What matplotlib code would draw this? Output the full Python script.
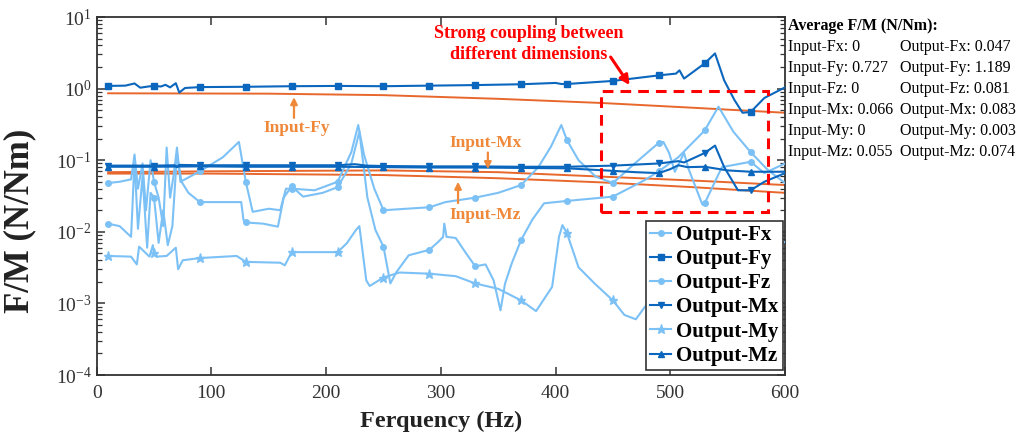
import numpy as np
import matplotlib
matplotlib.use("Agg")
import matplotlib.pyplot as plt
from matplotlib.patches import Rectangle
from matplotlib.ticker import LogLocator, NullFormatter, NullLocator

plt.rcParams['font.family'] = ['Liberation Serif', 'DejaVu Serif']
plt.rcParams['mathtext.fontset'] = 'custom'
plt.rcParams['mathtext.rm'] = 'Liberation Serif'
plt.rcParams['mathtext.it'] = 'Liberation Serif:italic'
plt.rcParams['mathtext.bf'] = 'Liberation Serif:bold'

# frequencies (Hz) where the markers sit on every output curve
marker_f = [10, 50, 90, 130, 170, 210, 250, 290, 330, 370, 410, 450, 490, 530, 570]

# input curves (F/M in N or N/m)
in_fy = [(10, 0.86), (150, 0.85), (250, 0.81), (350, 0.72), (440, 0.63), (520, 0.54), (600, 0.46)]
in_mx = [(10, 0.068), (100, 0.070), (250, 0.072), (350, 0.068), (440, 0.059), (520, 0.052), (600, 0.045)]
in_mz = [(10, 0.065), (100, 0.065), (250, 0.062), (350, 0.056), (440, 0.049), (520, 0.042), (600, 0.035)]

# output curves
out_fx = [(10, 0.013), (20, 0.012), (30, 0.0085), (33, 0.10), (36, 0.011), (40, 0.06), (44, 0.006),
          (47, 0.035), (50, 0.03), (54, 0.007), (58, 0.02), (62, 0.0065), (66, 0.012), (70, 0.12),
          (74, 0.05), (80, 0.035), (90, 0.026), (110, 0.026), (126, 0.026), (128, 0.0146), (130, 0.0135),
          (145, 0.013), (158, 0.0118), (163, 0.03), (170, 0.043), (180, 0.031), (197, 0.035), (210, 0.042),
          (222, 0.09), (229, 0.25), (236, 0.03), (243, 0.0106), (250, 0.0062), (256, 0.0019), (261, 0.0027),
          (272, 0.0047), (290, 0.0056), (298, 0.0073), (302, 0.0085), (303, 0.013), (305, 0.0085),
          (313, 0.0082), (322, 0.005), (330, 0.0033), (339, 0.0035), (346, 0.0021), (352, 0.0008),
          (356, 0.0019), (362, 0.0037), (370, 0.0077), (380, 0.015), (390, 0.025), (410, 0.027),
          (450, 0.031), (478, 0.053), (490, 0.07), (507, 0.11), (530, 0.26), (542, 0.56), (555, 0.25),
          (570, 0.13), (585, 0.073), (600, 0.048)]
out_fy = [(10, 1.09), (25, 1.10), (33, 1.18), (38, 1.03), (45, 1.07), (50, 1.09), (56, 1.07), (60, 1.13),
          (64, 1.04), (69, 1.19), (72, 0.88), (77, 1.02), (90, 1.05), (130, 1.06), (170, 1.08), (210, 1.09),
          (250, 1.08), (290, 1.10), (330, 1.12), (370, 1.15), (400, 1.20), (405, 1.16), (410, 1.16),
          (450, 1.28), (490, 1.53), (505, 1.62), (508, 1.8), (512, 1.38), (530, 2.25), (539, 3.1),
          (547, 1.3), (556, 0.69), (563, 0.46), (570, 0.47), (582, 0.74), (600, 1.04)]
out_fz = [(10, 0.048), (20, 0.05), (30, 0.054), (33, 0.12), (36, 0.04), (40, 0.09), (43, 0.02), (47, 0.1),
          (50, 0.05), (54, 0.03), (58, 0.012), (61, 0.15), (64, 0.03), (67, 0.06), (70, 0.15), (73, 0.05),
          (90, 0.07), (110, 0.11), (124, 0.18), (130, 0.05), (136, 0.019), (150, 0.021), (160, 0.02),
          (165, 0.04), (170, 0.04), (190, 0.038), (210, 0.05), (222, 0.13), (228, 0.31), (233, 0.12),
          (242, 0.04), (250, 0.02), (270, 0.021), (290, 0.022), (304, 0.026), (330, 0.03), (350, 0.035),
          (370, 0.045), (385, 0.08), (396, 0.155), (405, 0.31), (410, 0.19), (420, 0.10), (435, 0.059),
          (450, 0.048), (469, 0.09), (490, 0.175), (494, 0.18), (499, 0.126), (504, 0.069), (512, 0.126),
          (516, 0.075), (528, 0.024), (530, 0.025), (545, 0.08), (570, 0.095), (582, 0.066), (600, 0.09)]
out_mx = [(10, 0.084), (50, 0.084), (68, 0.085), (70, 0.08), (72, 0.086), (90, 0.085), (130, 0.085),
          (170, 0.085), (210, 0.085), (225, 0.088), (235, 0.084), (250, 0.083), (290, 0.082), (330, 0.082),
          (370, 0.081), (410, 0.081), (450, 0.084), (490, 0.090), (507, 0.097), (512, 0.093), (530, 0.126),
          (539, 0.16), (547, 0.08), (559, 0.038), (570, 0.038), (582, 0.05), (600, 0.066)]
out_my = [(10, 0.0046), (30, 0.0045), (35, 0.0035), (37, 0.0062), (46, 0.0045), (49, 0.0065), (50, 0.005),
          (52, 0.0045), (61, 0.0046), (69, 0.006), (71, 0.003), (75, 0.004), (90, 0.0043), (122, 0.0046),
          (130, 0.0038), (160, 0.0037), (164, 0.0034), (170, 0.0052), (210, 0.0052), (218, 0.0069),
          (226, 0.0106), (229, 0.012), (235, 0.0021), (238, 0.00175), (250, 0.0023), (264, 0.0027),
          (290, 0.0026), (313, 0.0024), (330, 0.0019), (350, 0.0016), (370, 0.0011), (383, 0.00078),
          (397, 0.0017), (403, 0.0085), (406, 0.0124), (410, 0.0095), (420, 0.0032), (434, 0.0019),
          (450, 0.0011), (460, 0.00069), (470, 0.0006), (478, 0.0009), (490, 0.0012), (530, 0.0025),
          (570, 0.004), (597, 0.0069), (600, 0.0072)]
out_mz = [(10, 0.081), (50, 0.081), (90, 0.082), (130, 0.081), (170, 0.081), (210, 0.081), (250, 0.080),
          (290, 0.079), (330, 0.079), (370, 0.078), (410, 0.077), (450, 0.071), (470, 0.068), (490, 0.066),
          (500, 0.075), (507, 0.085), (515, 0.08), (530, 0.081), (550, 0.072), (570, 0.069), (600, 0.069)]

avg_labels_in = ["Input-Fx: 0", "Input-Fy: 0.727", "Input-Fz: 0", "Input-Mx: 0.066", "Input-My: 0", "Input-Mz: 0.055"]
avg_labels_out = ["Output-Fx: 0.047", "Output-Fy: 1.189", "Output-Fz: 0.081", "Output-Mx: 0.083",
                  "Output-My: 0.003", "Output-Mz: 0.074"]

light = '#7CC1F6'
dark = '#0B66BD'
orange = '#E8672C'
lab_orange = '#F0883A'

fig = plt.figure(figsize=(10.24, 4.36), dpi=100)
ax = fig.add_axes([0.0944, 0.1399, 0.6722, 0.8211])

for data in [in_fy, in_mx, in_mz]:
  f, v = np.array(data).T
  ax.plot(f, v, color=orange, lw=1.4, zorder=2)

outputs = [(out_fx, light, 'o', 4, "Output-Fx"),
           (out_fy, dark, 's', 4, "Output-Fy"),
           (out_fz, light, 'o', 4, "Output-Fz"),
           (out_mx, dark, 'v', 4.5, "Output-Mx"),
           (out_my, light, '*', 6.5, "Output-My"),
           (out_mz, dark, '^', 4.5, "Output-Mz")]
handles = []
for data, col, mk, ms, name in outputs:
  f, v = np.array(data).T
  h, = ax.plot(f, v, color=col, lw=1.5, marker=mk, ms=ms, markevery=list(np.isin(f, marker_f)),
               label=name, zorder=3)
  handles.append(h)

ax.set_yscale('log')
ax.set_xlim(0, 600)
ax.set_ylim(1e-4, 10)
ax.set_xticks(np.arange(0, 601, 100))
ax.xaxis.set_minor_locator(NullLocator())
ax.yaxis.set_major_locator(LogLocator(base=10, numticks=10))
ax.yaxis.set_minor_locator(LogLocator(base=10, subs=np.arange(2, 10), numticks=10))
ax.yaxis.set_minor_formatter(NullFormatter())
ax.tick_params(which='both', direction='in', top=True, right=True, labelsize=14, colors='#333333')
ax.tick_params(which='major', length=6, width=1.1)
ax.tick_params(which='minor', length=3.5, width=0.9)
ax.tick_params(axis='x', pad=7)
for sp in ax.spines.values():
  sp.set_linewidth(1.3)
  sp.set_color('#333333')

ax.set_xlabel("Ferquency (Hz)", fontsize=17.5, fontweight='bold', color='#222222')
ax.set_ylabel("F/M (N/Nm)", fontsize=25, fontweight='bold', color='#222222')
ax.xaxis.set_label_coords(0.5, -0.1)
ax.yaxis.set_label_coords(-0.088, 0.43)

# coupling region
ax.add_patch(Rectangle((440, 0.0187), 145.5, 0.935 - 0.0187, fill=False, edgecolor='red', lw=2.2,
                       linestyle=(0, (3.5, 2.3)), zorder=5))
ax.text(377, 4.2, "Strong coupling between\ndifferent dimensions", color='red', fontsize=13,
        fontweight='bold', ha='center', va='center', linespacing=1.25)
ax.annotate("", xy=(464.6, 1.12), xytext=(448, 2.76),
            arrowprops=dict(arrowstyle='-|>', color='red', lw=2.2, mutation_scale=14, shrinkA=0, shrinkB=0))

# input labels
arrow_kw = dict(arrowstyle='-|>', color=lab_orange, lw=1.6, mutation_scale=10, shrinkA=0, shrinkB=0)
ax.text(174, 0.28, "Input-Fy", color=lab_orange, fontsize=12.5, fontweight='bold', ha='center', va='center')
ax.annotate("", xy=(172, 0.76), xytext=(172, 0.39), arrowprops=arrow_kw)
ax.text(339, 0.172, "Input-Mx", color=lab_orange, fontsize=12.5, fontweight='bold', ha='center', va='center')
ax.annotate("", xy=(341, 0.075), xytext=(341, 0.128), arrowprops=arrow_kw)
ax.text(339, 0.0172, "Input-Mz", color=lab_orange, fontsize=12.5, fontweight='bold', ha='center', va='center')
ax.annotate("", xy=(315, 0.050), xytext=(315, 0.0252), arrowprops=arrow_kw)

leg = ax.legend(handles=handles, loc='lower right', bbox_to_anchor=(0.997, 0.014), borderaxespad=0,
                fancybox=False, edgecolor='#333333', framealpha=1, handlelength=1.0, handletextpad=0.25,
                labelspacing=0.2, borderpad=0.2, prop={'family': 'Liberation Serif', 'weight': 'bold', 'size': 15})
leg.get_frame().set_linewidth(1.2)
leg.set_zorder(6)

# averages block on the right
fig.text(788 / 1024, 1 - 26 / 436, "Average F/M (N/Nm):", fontsize=11.5, fontweight='bold', va='center')
for i in range(6):
  y = 1 - (47 + 21 * i) / 436
  fig.text(788 / 1024, y, avg_labels_in[i], fontsize=11.5, va='center')
  fig.text(900 / 1024, y, avg_labels_out[i], fontsize=11.5, va='center')

fig.savefig("out.png", dpi=100)
